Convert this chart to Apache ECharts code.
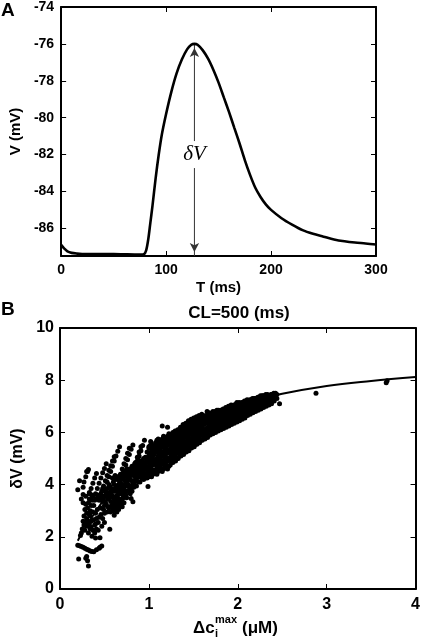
<!DOCTYPE html>
<html><head><meta charset="utf-8">
<script src="https://cdn.jsdelivr.net/npm/echarts@6/dist/echarts.min.js"></script>
<style>html,body{margin:0;padding:0;background:#fff}#c{width:423px;height:642px}</style>
</head><body><div id="c"></div>
<script>
// ---------- Panel A data ----------
const tA = [0,3,6,10,15,20,30,40,50,60,70,76,79,81,83,85,87,90,93,96,100,105,110,115,120,124,127,130,135,140,145,150,155,160,165,170,175,180,185,190,195,200,210,220,230,240,250,260,270,280,290,300];
const vA = [-86.9,-87.1,-87.25,-87.33,-87.37,-87.39,-87.4,-87.4,-87.4,-87.41,-87.42,-87.42,-87.4,-87.2,-86.6,-85.7,-84.8,-83.3,-82.0,-80.9,-79.8,-78.6,-77.6,-76.85,-76.3,-76.05,-76.0,-76.05,-76.35,-76.8,-77.4,-78.1,-78.9,-79.7,-80.55,-81.4,-82.3,-83.1,-83.8,-84.3,-84.7,-85.0,-85.45,-85.8,-86.1,-86.3,-86.45,-86.6,-86.7,-86.77,-86.82,-86.88];
const peakArrow = [[127,-87.5],[127,-76.0]];
const deltaLabelPos = [[127,-82]];
const aXTicks = [0,100,200,300];
const aYTicks = [-86,-84,-82,-80,-78,-76,-74];

// ---------- Panel B data ----------
const fitX = [0.2,0.3,0.4,0.5,0.6,0.75,1.0,1.25,1.5,1.75,2.0,2.25,2.5,3.0,3.5,4.0];
const fitY = [1.85,2.45,2.95,3.45,3.85,4.4,5.15,5.75,6.25,6.65,6.95,7.25,7.48,7.78,7.97,8.12];

const lowPts = [[0.20,1.68],[0.22,1.66],[0.24,1.63],[0.26,1.6],[0.28,1.56],[0.30,1.52],[0.32,1.49],[0.34,1.46],[0.36,1.44],[0.38,1.43],
 [0.41,1.5],[0.44,1.56],[0.47,1.65],[0.45,1.6],[0.21,1.15],[0.30,1.25],[0.31,1.08],[0.32,0.88],[0.29,1.18],
 [0.20,3.8],[0.22,4.15],[0.30,4.5],[0.32,4.58],[0.24,3.45],[0.26,3.62],
 [0.23,2.05],[0.25,2.3],[0.27,2.45],[0.29,2.55],[0.26,2.6],[0.31,2.4],[0.33,2.5],[0.35,2.38],[0.37,2.25],[0.39,2.15],[0.41,2.3],[0.43,2.25],[0.45,1.96],[0.56,2.29],[0.36,2.02],[0.40,1.95],
 [0.28,3.05],[0.30,2.9],[0.32,3.3],[0.34,3.0],[0.36,3.4],[0.38,3.2],[0.40,2.9],[0.42,3.05],[0.44,2.75],[0.46,2.85],[0.48,2.7],[0.50,2.9],[0.26,3.3],[0.29,3.55],[0.33,3.7],[0.37,3.55],[0.30,2.7],[0.34,2.8],[0.38,2.65],[0.35,3.2],[0.41,3.45],
 [0.27,2.8],[0.29,3.25],[0.31,2.6],[0.33,2.85],[0.35,2.6],[0.37,2.95],[0.39,2.45],[0.41,2.7],[0.43,2.55],[0.31,3.1],[0.33,3.45],[0.36,3.6],[0.39,3.4],[0.42,3.6],[0.44,3.4],[0.28,2.25],[0.32,2.15],[0.34,2.3],[0.24,2.15],[0.40,2.5],[0.47,2.4],[0.50,2.55]];

const streakPts = [[0.31,4.5],[0.29,4.3],[0.27,4.1],[0.26,3.9],
 [0.41,4.43],[0.39,4.25],[0.37,4.05],[0.35,3.85],[0.33,3.65],
 [0.52,4.8],[0.50,4.62],[0.48,4.45],[0.46,4.25],[0.44,4.05],[0.42,3.85],[0.40,3.65],
 [0.61,5.07],[0.59,4.9],[0.57,4.72],[0.55,4.55],[0.53,4.35],[0.51,4.15],[0.49,3.95],[0.47,3.75],
 [0.67,5.45],[0.65,5.28],[0.63,5.1],[0.61,4.9],[0.59,4.7],[0.57,4.5],[0.55,4.3],[0.53,4.1],
 [0.78,5.39],[0.76,5.2],[0.74,5.0],[0.72,4.8],[0.70,4.6],[0.68,4.4],[0.66,4.2],
 [0.82,5.52],[0.80,5.35],[0.78,5.15],[0.76,4.95],[0.74,4.75],
 [0.91,5.45],[0.89,5.25],[0.87,5.05],[0.85,4.85],[0.83,4.65],[0.81,4.45],
 [0.95,5.7],[0.93,5.5],[0.91,5.3],[0.89,5.1],[0.87,4.9],
 [1.02,5.65],[1.0,5.45],[0.98,5.25],[0.96,5.05],[0.94,4.85],
 [1.06,5.45],[1.04,5.25],[1.02,5.05]];

const midPts = [[0.45,3.5],[0.48,3.35],[0.50,3.55],[0.52,3.25],[0.54,3.45],[0.55,3.65],[0.57,3.35],[0.58,3.85],[0.60,3.3],[0.61,2.83],[0.62,3.05],[0.63,3.55],[0.64,3.75],[0.65,3.15],[0.66,3.45],[0.67,3.9],[0.68,3.3],[0.69,3.65],[0.70,4.0],[0.71,3.5],[0.72,3.85],[0.73,4.15],[0.74,3.6],[0.75,4.3],[0.76,3.95],[0.77,4.45],[0.78,3.8],[0.79,4.2],[0.80,4.55],[0.80,3.47],[0.82,3.34],[0.82,4.1],[0.83,4.35],[0.84,4.8],[0.85,4.25],[0.86,4.6],[0.87,4.4],[0.88,4.75],[0.89,4.3],[0.90,4.55],[0.91,4.9],[0.92,4.45],[0.93,4.7],[0.94,5.0],[0.95,4.35],[0.96,4.6],[0.97,4.85],[0.98,4.45],[0.99,3.93],[0.99,5.0],[0.60,4.1],[0.62,4.35],[0.56,3.95],[0.52,3.7],[0.49,3.05],[0.57,2.95],[0.64,2.95],[0.70,3.15],[0.66,4.0],[0.72,4.35],
 [0.46,3.65],[0.47,3.45],[0.50,3.2],[0.51,3.75],[0.53,3.55],[0.54,3.15],[0.56,3.5],[0.57,3.75],[0.59,3.55],[0.59,3.1],[0.61,3.45],[0.62,3.75],[0.63,3.25],[0.64,3.5],[0.65,3.9],[0.66,3.25],[0.67,3.65],[0.68,4.05],[0.69,3.45],[0.70,3.8],[0.71,4.2],[0.72,3.6],[0.73,3.95],[0.74,4.35],[0.75,3.75],[0.76,4.15],[0.77,4.0],[0.78,4.35],[0.79,3.9],[0.80,4.35],[0.81,4.15],[0.82,4.55],[0.83,4.05],[0.84,4.45],[0.85,4.6],[0.86,4.2],[0.87,4.65],[0.88,4.45],[0.89,4.7],[0.90,4.3],[0.91,4.65],[0.92,4.85],[0.93,4.4],[0.94,4.6],[0.95,4.8],[0.96,4.4],[0.97,4.7],[0.98,4.9],[0.99,4.6],[0.97,4.3],
 [0.46,3.1],[0.48,3.85],[0.49,3.55],[0.51,3.35],[0.53,2.95],[0.53,3.85],[0.55,3.1],[0.55,4.0],[0.56,3.7],[0.58,3.2],[0.58,3.6],[0.59,4.25],[0.60,3.0],[0.60,3.75],[0.61,4.0],[0.62,3.2],[0.63,3.85],[0.63,4.2],[0.64,3.35],[0.65,3.6],[0.65,4.3],[0.66,3.05],[0.67,3.4],[0.67,4.15],[0.68,3.8],[0.69,3.2],[0.69,4.25],[0.70,3.45],[0.71,3.9],[0.71,4.45],[0.72,3.3],[0.73,3.7],[0.73,4.5],[0.74,4.0],[0.75,3.5],[0.75,4.6],[0.76,3.75],[0.77,4.25],[0.78,4.6],[0.79,3.65],[0.79,4.45],[0.80,3.95],[0.81,4.7],[0.81,3.75],[0.83,3.9],[0.83,4.55],[0.84,4.15],[0.85,4.4],[0.86,4.85],[0.86,3.95],[0.88,4.1],[0.88,4.95],[0.90,4.1],[0.90,4.8],[0.92,4.25],[0.92,4.65],[0.94,4.2],[0.94,4.45],[0.96,4.25],[0.96,4.85],[0.98,4.25],[0.98,4.65],[1.0,4.3],[1.0,4.55],[1.01,4.9],[1.0,5.2]];

const bandCols = [
 [1.00,[4.35,4.7,5.05,5.4]],[1.03,[4.3,4.6,4.95,5.3,5.55]],[1.06,[4.45,4.8,5.15]],[1.09,[4.4,4.7,5.0,5.35,5.7]],
 [1.12,[4.55,4.85,5.2,5.55]],[1.15,[4.5,4.8,5.1,5.45,5.75,6.25]],[1.18,[4.65,4.95,5.3,5.6]],[1.21,[4.6,4.9,5.2,5.5,5.85,6.2]],
 [1.24,[4.75,5.05,5.35,5.7]],[1.27,[4.85,5.15,5.45,5.8,6.0]],[1.30,[4.9,5.25,5.55,5.9]],[1.33,[5.0,5.3,5.65,5.95]],
 [1.36,[5.1,5.4,5.75,6.1]],[1.39,[5.15,5.5,5.85,6.2]],[1.42,[5.25,5.6,5.95,6.25]],[1.45,[5.3,5.65,6.0,6.35]],
 [1.48,[5.4,5.75,6.1,6.45]],[1.51,[5.45,5.8,6.15,6.5]],[1.54,[5.55,5.9,6.25,6.55]],[1.57,[5.6,5.95,6.3,6.6]],
 [1.60,[5.7,6.0,6.35,6.6]],[1.63,[5.75,6.05,6.4]],[1.66,[5.8,6.15,6.45,6.7]],[1.69,[5.9,6.2,6.5]],
 [1.72,[5.95,6.25,6.55,6.8]],[1.75,[6.0,6.3,6.6]],[1.78,[6.05,6.35,6.65,6.85]],[1.81,[6.1,6.4,6.7]],
 [1.84,[6.15,6.45,6.75]],[1.87,[6.2,6.5,6.8]],[1.90,[6.25,6.55,6.85]],[1.93,[6.3,6.6,6.9]],
 [1.96,[6.35,6.65,6.95]],[1.99,[6.4,6.7,7.0,7.15]],[2.02,[6.45,6.75,7.0]],[2.05,[6.5,6.8,7.05]],
 [2.08,[6.55,6.85,7.1]],[2.11,[6.65,6.9,7.1]],[2.14,[6.7,6.95,7.15]],[2.17,[6.75,7.0,7.2]],
 [2.20,[6.8,7.05,7.25]],[2.23,[6.85,7.1,7.25]],[2.26,[6.9,7.15,7.3]],[2.29,[6.95,7.2,7.35]],
 [2.32,[7.0,7.25]],[2.35,[7.05,7.3,7.4]],[2.38,[7.1,7.35,7.45]],[2.41,[7.2,7.4]],[2.44,[7.3,7.45]],
 [1.015,[4.5,4.85,5.2,5.5]],[1.045,[4.4,4.75,5.1,5.45]],[1.075,[4.55,4.9,5.25,5.6]],[1.105,[4.5,4.8,5.1,5.45,5.75]],
 [1.135,[4.65,4.95,5.3,5.65]],[1.165,[4.6,4.9,5.2,5.55,5.85]],[1.195,[4.75,5.05,5.4,5.7]],[1.225,[4.7,5.0,5.3,5.65,5.95]],
 [1.255,[4.85,5.15,5.5,5.85]],[1.285,[4.95,5.3,5.6,5.95]],[1.315,[5.0,5.35,5.7,6.0]],[1.345,[5.1,5.45,5.8,6.1]],
 [1.375,[5.2,5.55,5.9,6.2]],[1.405,[5.25,5.6,5.95,6.3]],[1.435,[5.35,5.7,6.05,6.35]],[1.465,[5.4,5.75,6.1,6.4]],
 [1.495,[5.5,5.85,6.2,6.5]],[1.525,[5.55,5.9,6.25,6.55]],[1.555,[5.65,6.0,6.3,6.6]],[1.585,[5.7,6.05,6.35,6.6]],
 [1.615,[5.8,6.1,6.45,6.65]],[1.645,[5.85,6.15,6.5]],[1.675,[5.9,6.25,6.55,6.75]],[1.705,[6.0,6.3,6.6]],
 [1.735,[6.05,6.35,6.65]],[1.765,[6.1,6.4,6.7,6.85]],[1.795,[6.15,6.45,6.75]],[1.825,[6.2,6.5,6.8]],
 [1.855,[6.3,6.6,6.85]],[1.885,[6.35,6.65,6.9]],[1.915,[6.4,6.7,6.95]],[1.945,[6.45,6.75,7.0]],
 [1.975,[6.5,6.8,7.05]],[2.005,[6.55,6.85,7.1]],[2.035,[6.6,6.9,7.1]],[2.065,[6.65,6.95,7.15]],
 [2.095,[6.7,7.0,7.15]],[2.125,[6.8,7.05,7.2]],[2.155,[6.85,7.1,7.25]],[2.185,[6.9,7.15,7.3]],
 [2.215,[6.95,7.2,7.3]],[2.245,[7.0,7.2,7.35]],[2.275,[7.05,7.25,7.4]],[2.305,[7.1,7.3,7.4]],
 [2.335,[7.15,7.35,7.45]],[2.365,[7.2,7.4]],[2.395,[7.25,7.45]],[2.425,[7.35,7.5]],
 [1.025,[4.45,4.8,5.15,5.45]],[1.055,[4.55,4.95,5.3]],[1.085,[4.6,4.95,5.25,5.55]],[1.115,[4.7,5.0,5.35,5.65]],
 [1.145,[4.8,5.1,5.45,5.7]],[1.175,[4.8,5.15,5.45,5.75]],[1.205,[4.9,5.25,5.55,5.8]],[1.235,[4.95,5.25,5.55,5.85]],
 [1.265,[5.0,5.35,5.65,5.95]],[1.295,[5.1,5.45,5.75,6.05]],[1.325,[5.2,5.5,5.85,6.1]],[1.355,[5.3,5.6,5.95,6.2]],
 [1.385,[5.35,5.7,6.05,6.3]],[1.415,[5.45,5.8,6.1,6.35]],[1.445,[5.5,5.85,6.2,6.45]],[1.475,[5.6,5.95,6.3,6.5]],
 [1.505,[5.65,6.0,6.35,6.55]],[1.535,[5.75,6.1,6.4,6.6]],[1.565,[5.8,6.15,6.45,6.65]],[1.595,[5.9,6.2,6.5,6.7]],
 [1.625,[5.95,6.3,6.55]],[1.655,[6.0,6.35,6.6,6.8]],[1.685,[6.1,6.4,6.65]],[1.715,[6.15,6.45,6.75]],
 [1.745,[6.2,6.5,6.8]],[1.775,[6.25,6.55,6.8]],[1.805,[6.3,6.6,6.85]],[1.835,[6.35,6.65,6.9]],
 [1.865,[6.4,6.7,6.95]],[1.895,[6.45,6.75,7.0]],[1.925,[6.5,6.8,7.05]],[1.955,[6.55,6.85,7.05]],
 [1.985,[6.6,6.9,7.1]],[2.015,[6.65,6.95,7.15]],[2.045,[6.7,7.0,7.15]],[2.075,[6.8,7.05,7.2]],
 [2.105,[6.85,7.05,7.25]],[2.135,[6.9,7.1,7.25]],[2.165,[6.95,7.15,7.3]],[2.195,[7.0,7.2,7.3]],
 [2.225,[7.05,7.25,7.35]],[2.255,[7.1,7.3,7.4]],[2.285,[7.15,7.3,7.4]],[2.315,[7.2,7.35,7.45]],
 [2.345,[7.25,7.4]],[2.375,[7.3,7.45]],[2.405,[7.35,7.5]]];

const sparsePts = [[2.47,7.1],[2.88,7.5],[3.67,7.9],[3.68,7.98]];
const bXTicks = [0,1,2,3,4];
const bYTicks = [0,2,4,6,8,10];

// ---------- build ----------
const bandPts = [];
bandCols.forEach(c => c[1].forEach(y => bandPts.push([c[0], y])));
const scatterB = [].concat(lowPts, streakPts, midPts, bandPts, sparsePts);
const lineA = tA.map((t,i) => [t, vA[i]]);
const fitLine = fitX.map((x,i) => [x, fitY[i]]);

const FONT = 'Liberation Sans, Arial, sans-serif';
function axisBase(extra){
  return Object.assign({
    axisLine:{show:true,onZero:false,lineStyle:{color:'#000',width:2}},
    axisTick:{show:true,inside:true,length:5,lineStyle:{color:'#000',width:1}},
    splitLine:{show:false},
  }, extra);
}
const lblA = {color:'#000',fontFamily:FONT,fontWeight:'bold',fontSize:14};
const lblB = {color:'#000',fontFamily:FONT,fontWeight:'bold',fontSize:16};

const option = {
  animation:false,
  backgroundColor:'#fff',
  grid:[
    {left:57,right:47,top:4,bottom:386,show:false},
    {left:60,right:5,top:328,bottom:53,show:false}
  ],
  xAxis:[
    axisBase({type:'value',gridIndex:0,position:'bottom',min:0,max:300,interval:100,
      axisLabel:Object.assign({margin:7},lblA),
      name:'T (ms)',nameLocation:'middle',nameGap:24,nameTextStyle:Object.assign({},lblA,{fontSize:15})}),
    axisBase({type:'value',gridIndex:0,position:'top',min:0,max:300,interval:100,axisLabel:{show:false}}),
    axisBase({type:'value',gridIndex:1,position:'bottom',min:0,max:4,interval:1,
      axisLabel:Object.assign({margin:8},lblB)}),
    axisBase({type:'value',gridIndex:1,position:'top',min:0,max:4,interval:1,axisLabel:{show:false}})
  ],
  yAxis:[
    axisBase({type:'value',gridIndex:0,position:'left',min:-87.5,max:-74,
      axisLabel:Object.assign({margin:7,customValues:aYTicks},lblA),
      axisTick:{show:true,inside:true,length:5,customValues:aYTicks,lineStyle:{color:'#000',width:1}},
      name:'V (mV)',nameLocation:'middle',nameGap:36,nameRotate:90,nameTextStyle:Object.assign({},lblA,{fontSize:15})}),
    axisBase({type:'value',gridIndex:0,position:'right',min:-87.5,max:-74,
      axisLabel:{show:false,customValues:aYTicks},
      axisTick:{show:true,inside:true,length:5,customValues:aYTicks,lineStyle:{color:'#000',width:1}}}),
    axisBase({type:'value',gridIndex:1,position:'left',min:0,max:10,interval:2,
      axisLabel:Object.assign({margin:6},lblB),
      name:'δV (mV)',nameLocation:'middle',nameGap:27,nameRotate:90,nameTextStyle:Object.assign({},lblB)}),
    axisBase({type:'value',gridIndex:1,position:'right',min:0,max:10,interval:2,axisLabel:{show:false}})
  ],
  graphic:[
    {type:'text',left:1,top:1,style:{text:'A',font:'bold 19px '+FONT,fill:'#000'}},
    {type:'text',left:1,top:300,style:{text:'B',font:'bold 19px '+FONT,fill:'#000'}},
    {type:'text',x:239,y:313,style:{text:'CL=500 (ms)',font:'bold 17px '+FONT,fill:'#000',align:'center',verticalAlign:'middle'}},
    {type:'text',x:193,y:628,style:{text:'Δc',font:'bold 17px '+FONT,fill:'#000',align:'left',verticalAlign:'middle'}},
    {type:'text',x:215,y:620,style:{text:'max',font:'bold 11px '+FONT,fill:'#000',align:'left',verticalAlign:'middle'}},
    {type:'text',x:215,y:634,style:{text:'i',font:'bold 11px '+FONT,fill:'#000',align:'left',verticalAlign:'middle'}},
    {type:'text',x:242,y:628,style:{text:'(μM)',font:'bold 17px '+FONT,fill:'#000',align:'left',verticalAlign:'middle'}}
  ],
  series:[
    {type:'line',xAxisIndex:0,yAxisIndex:0,data:lineA,showSymbol:false,smooth:0.3,
      lineStyle:{color:'#000',width:2.6},z:3},
    {type:'line',xAxisIndex:0,yAxisIndex:0,data:peakArrow,showSymbol:false,
      lineStyle:{color:'#333',width:1},z:2},
    {type:'scatter',xAxisIndex:0,yAxisIndex:0,data:[peakArrow[0]],symbol:'arrow',symbolSize:[7,9],symbolRotate:180,symbolOffset:[0,-4],
      itemStyle:{color:'#333',opacity:1},z:2},
    {type:'scatter',xAxisIndex:0,yAxisIndex:0,data:[peakArrow[1]],symbol:'arrow',symbolSize:[7,9],symbolOffset:[0,4],
      itemStyle:{color:'#333',opacity:1},z:2},
    {type:'scatter',xAxisIndex:0,yAxisIndex:0,data:deltaLabelPos,symbolSize:1,itemStyle:{color:'#fff',opacity:1},z:4,
      label:{show:true,position:'inside',formatter:'δV',fontFamily:'Liberation Serif, serif',fontStyle:'italic',fontSize:21,color:'#000',opacity:1,
        backgroundColor:'#fff',padding:[3,1]}},
    {type:'scatter',xAxisIndex:2,yAxisIndex:2,data:scatterB,symbolSize:5,itemStyle:{color:'#000',opacity:1},z:2},
    {type:'line',xAxisIndex:2,yAxisIndex:2,data:fitLine,showSymbol:false,smooth:0.4,lineStyle:{color:'#000',width:2},z:3}
  ]
};
const chart = echarts.init(document.getElementById('c'),null,{renderer:'canvas'});
chart.setOption(option);
</script></body></html>
